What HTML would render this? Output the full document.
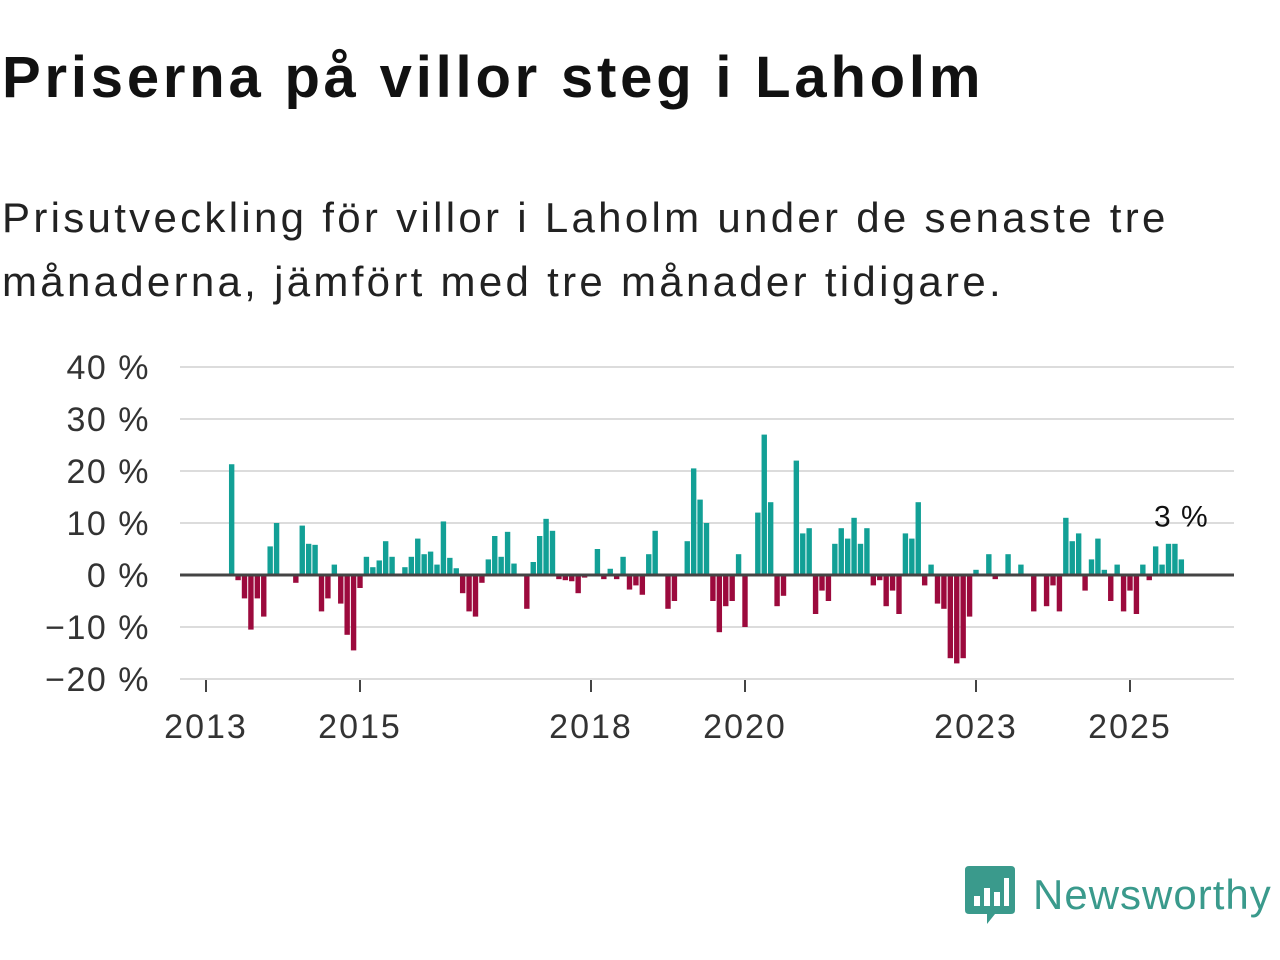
<!DOCTYPE html>
<html><head><meta charset="utf-8"><style>
body{margin:0;width:1280px;height:960px;background:#fff;font-family:"Liberation Sans",sans-serif;overflow:hidden;position:relative}
#title{position:absolute;left:2px;top:44px;font-size:58px;font-weight:bold;color:#111;margin:0;letter-spacing:3.8px;white-space:nowrap}
#sub{position:absolute;left:2px;top:186px;font-size:42px;line-height:64px;color:#222;width:1270px;letter-spacing:3.3px;white-space:nowrap}
svg{position:absolute;left:0;top:0}
#logo{position:absolute;left:965px;top:866px;display:flex;align-items:center}
#logo span{font-size:42px;color:#3a9a8c;margin-left:18px;letter-spacing:1px}
</style></head><body>
<h1 id="title">Priserna på villor steg i Laholm</h1>
<div id="sub">Prisutveckling för villor i Laholm under de senaste tre<br>månaderna, jämfört med tre månader tidigare.</div>
<svg id="chart" width="1280" height="960"></svg>
<div id="logo">
<svg width="50" height="58" viewBox="0 0 50 58" style="position:static"><path d="M0 4Q0 0 4 0H46Q50 0 50 4V44Q50 48 46 48H30L22 58V48H4Q0 48 0 44Z" fill="#3a9a8c"/><rect x="9" y="30" width="6" height="10" fill="#fff"/><rect x="19" y="22" width="6" height="18" fill="#fff"/><rect x="29" y="26" width="6" height="14" fill="#fff"/><rect x="39" y="12" width="5" height="28" fill="#fff"/></svg>
<span>Newsworthy</span></div>
<script>
const yTicks=[40,30,20,10,0,-10,-20];
const yTickLabels=["40 %","30 %","20 %","10 %","0 %","−10 %","−20 %"];
const xTickYears=[2013,2015,2018,2020,2023,2025];
const firstMonth=[2013,5];
const values=[21.3,-1,-4.5,-10.5,-4.5,-8,5.5,10,0,0,-1.5,9.5,6,5.8,-7,-4.5,2,-5.5,-11.5,-14.5,-2.5,3.5,1.5,2.8,6.5,3.5,0,1.5,3.5,7,4,4.5,2,10.3,3.3,1.3,-3.5,-7,-8,-1.5,3,7.5,3.5,8.3,2.2,0,-6.5,2.5,7.5,10.8,8.5,-0.8,-1,-1.2,-3.5,-0.5,0,5,-0.8,1.2,-0.8,3.5,-2.8,-2,-3.8,4,8.5,0,-6.5,-5,0,6.5,20.5,14.5,10,-5,-11,-6,-5,4,-10,0,12,27,14,-6,-4,0,22,8,9,-7.5,-3,-5,6,9,7,11,6,9,-2,-1,-6,-3,-7.5,8,7,14,-2,2,-5.5,-6.5,-16,-17,-16,-8,1,0,4,-0.8,0,4,0,2,0,-7,0,-6,-2,-7,11,6.5,8,-3,3,7,1,-5,2,-7,-3,-7.5,2,-1,5.5,2,6,6,3];
const lastLabel="3 %";
const NS="http://www.w3.org/2000/svg";
const svg=document.getElementById('chart');
const X0=206,PXY=77,Y0=575,PXP=5.2;
const xScale=(y,m)=>X0+((y-2013)*12+(m-1))*PXY/12;
const yScale=v=>Y0-v*PXP;
function mk(t,a){const e=document.createElementNS(NS,t);for(const k in a)e.setAttribute(k,a[k]);svg.appendChild(e);return e;}
yTicks.forEach((t,i)=>{
 if(t!==0){const g=mk('line',{x1:180,x2:1234,y1:yScale(t),y2:yScale(t),stroke:'#dcdcdc','stroke-width':2});
 
 }
 const l=mk('text',{x:150,y:yScale(t)+12,'text-anchor':'end','font-size':34,'letter-spacing':1.5,fill:'#333','font-family':'Liberation Sans'});
 l.textContent=yTickLabels[i];
 
 
});
xTickYears.forEach(y=>{
 const x=xScale(y,1);
 const t=mk('line',{x1:x,x2:x,y1:680,y2:692,stroke:'#444','stroke-width':2});
 
 
 const l=mk('text',{x:x,y:738,'text-anchor':'middle','font-size':34,'letter-spacing':2,fill:'#333','font-family':'Liberation Sans'});
 l.textContent=y;
 
 
});
let lastX=0;
values.forEach((v,i)=>{
 const mi=firstMonth[1]-1+i;
 const x=xScale(firstMonth[0]+Math.floor(mi/12),mi%12+1);
 lastX=x;
 const y=Math.min(yScale(v),Y0),h=Math.abs(yScale(v)-Y0);
 const r=mk('rect',{x:x-2.7,y:y,width:5.4,height:h,fill:v>=0?'#12a096':'#9c0a3d'});
 
 
});
const z=mk('line',{x1:180,x2:1234,y1:Y0,y2:Y0,stroke:'#444','stroke-width':3});


const ll=mk('text',{x:lastX,y:yScale(values[values.length-1])-33,'text-anchor':'middle','font-size':30,'letter-spacing':1,fill:'#111','font-family':'Liberation Sans'});
ll.textContent=lastLabel;


</script>
</body></html>
